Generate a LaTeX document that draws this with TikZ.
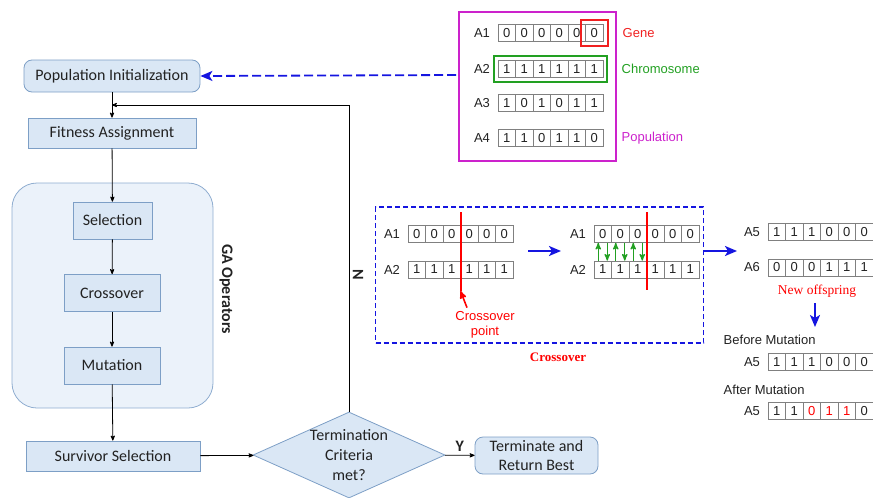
\documentclass[tikz,border=0pt]{standalone}
\usepackage{fontspec}
\setmainfont{Carlito}
\newfontfamily\arialfont{Liberation Sans}
\newfontfamily\timesfont{Liberation Serif}
\usetikzlibrary{arrows,arrows.meta,shapes.geometric,fit,positioning}
\definecolor{ink}{HTML}{222222}
\definecolor{boxfill}{HTML}{DAE7F5}
\definecolor{boxline}{HTML}{7D9FC6}
\definecolor{gafill}{HTML}{EBF2FA}
\definecolor{galine}{HTML}{8FADD0}
\definecolor{cellline}{HTML}{808080}
\definecolor{popcol}{HTML}{CC22CC}
\definecolor{genered}{HTML}{F02020}
\definecolor{chromgreen}{HTML}{22A022}
\definecolor{swapblue}{HTML}{1515E0}

\begin{document}
\begin{tikzpicture}[->,>=stealth',x=1pt,y=-1pt,line width=0.8pt,
  font=\fontsize{16}{19}\selectfont,text=ink]
  \tikzstyle{flow}=[draw=boxline,fill=boxfill,minimum height=30,inner sep=2,align=center]
  \tikzstyle{bitcell}=[draw=cellline,fill=white,line width=0.7pt,minimum width=17.5,
    minimum height=17,inner sep=0,font=\arialfont\fontsize{13}{15}\selectfont]
  \tikzstyle{rowlabel}=[font=\arialfont\fontsize{13}{15}\selectfont]
  \tikzstyle{note}=[anchor=west,font=\arialfont\fontsize{13}{15}\selectfont]
  \tikzstyle{bluearrow}=[swapblue,line width=2,-{Stealth[length=12pt,width=10pt,inset=3pt]}]

  \useasboundingbox (0,0) rectangle (873,498);

  % main flow
  \node[flow,rounded corners=8,minimum width=176,minimum height=32] (init) at (112,76) {Population Initialization};
  \node[flow,minimum width=168] (fit) at (112,133) {Fitness Assignment};
  \node[draw=galine,fill=gafill,rounded corners=25,minimum width=201,minimum height=225] (ga) at (112.5,295.5) {};
  \node[flow,minimum width=79,minimum height=37] (sel) at (112.5,220.5) {Selection};
  \node[flow,minimum width=96,minimum height=37] (cross) at (112,293) {Crossover};
  \node[flow,minimum width=96,minimum height=37] (mut) at (112,365.5) {Mutation};
  \node[rotate=-90,font=\fontsize{16}{19}\selectfont\bfseries] (galab) at (226,289) {GA Operators};
  \node[flow,minimum width=174] (surv) at (113,456) {Survivor Selection};
  \node[flow,diamond,minimum width=192,minimum height=86,inner sep=0,
    label={[align=center,font=\fontsize{16}{20}\selectfont]center:Termination\\Criteria\\met?}] (term) at (349,455) {};
  \node[flow,rounded corners=8,minimum width=123,minimum height=37] (done) at (536.5,455.5) {Terminate and\\Return Best};
  \coordinate (back) at (112,105);

  \path (init) edge (fit)
        (fit)  edge (sel)
        (sel)  edge (cross)
        (cross) edge (mut)
        (mut)  edge (surv)
        (surv) edge (term);
  \draw (term) -- node[above,font=\fontsize{16}{19}\selectfont\bfseries] {Y} (done);
  \draw (term.north) |- (back);
  \node[rotate=-90,font=\fontsize{16}{19}\selectfont\bfseries] (nlab) at (358,275) {N};

  % population
  \node[draw=popcol,line width=1.5,minimum width=157,minimum height=149] (pop) at (537.5,86.5) {};
  \foreach \nm/\lab/\xo/\yo/\bits in {p1/A1/498/33/{0,0,0,0,0,0},
      p2/A2/498/69/{1,1,1,1,1,1}, p3/A3/498/103/{1,0,1,0,1,1},
      p4/A4/498/138/{1,1,0,1,1,0}}{
    \node[rowlabel] (\nm) at (\xo-16,\yo) {\lab};
    \foreach \b [count=\i] in \bits
      \node[bitcell] (\nm-\i) at (\xo+\i*17.5-8.75,\yo) {\b};
  }
  \node[draw=genered,line width=2,fit=(p1-6),inner sep=4.5] (gbox) {};
  \node[draw=chromgreen,line width=2,fit=(p2-1)(p2-6),inner sep=4] (cbox) {};
  \node[note,text=genered] (gene) at (619,33) {Gene};
  \node[note,text=chromgreen] (chrom) at (618,69) {Chromosome};
  \node[note,text=popcol] (poplab) at (618,138) {Population};
  \coordinate (popin) at (456,75);
  \draw[bluearrow,line width=1.8,dash pattern=on 9pt off 4pt] (popin) -- (init.east);

  % crossover
  \node[draw=swapblue,line width=1.3,dash pattern=on 5pt off 3pt,minimum width=328,minimum height=136] (xbox) at (539.5,275) {};
  \foreach \nm/\lab/\xo/\yo/\bits in {c1/A1/408/234/{0,0,0,0,0,0},
      c2/A2/408/269.5/{1,1,1,1,1,1}, d1/A1/594/234/{0,0,0,0,0,0},
      d2/A2/594/269.5/{1,1,1,1,1,1}}{
    \node[rowlabel] (\nm) at (\xo-16,\yo) {\lab};
    \foreach \b [count=\i] in \bits
      \node[bitcell] (\nm-\i) at (\xo+\i*17.5-8.75,\yo) {\b};
  }
  \coordinate (cuta) at (460.5,212);
  \coordinate (cutb) at (460.5,291);
  \coordinate (cutc) at (646.5,212);
  \coordinate (cutd) at (646.5,290);
  \draw[-,red,line width=2] (cuta) -- (cutb);
  \draw[-,red,line width=2] (cutc) -- (cutd);
  \node[rowlabel,text=red,align=center,font=\arialfont\fontsize{13}{15.5}\selectfont] (cpt) at (485,325) {Crossover\\point};
  \draw[red,line width=1.6] ([xshift=-18pt]cpt.north) -- (cutb);
  \foreach \i in {1,2,3}{
    \draw[chromgreen,line width=1.3] ([xshift=-4.5pt]d2-\i.north) -- ([xshift=-4.5pt]d1-\i.south);
    \draw[chromgreen,line width=1.3] ([xshift=4.5pt]d1-\i.south) -- ([xshift=4.5pt]d2-\i.north);
  }
  \coordinate (xa) at (528,251);
  \coordinate (xb) at (561,251);
  \draw[bluearrow] (xa) -- (xb);
  \node[text=red,font=\timesfont\fontsize{13}{15}\selectfont\bfseries] (xlab) at (558,357) {Crossover};

  % offspring and mutation
  \coordinate (oa) at (704,251);
  \coordinate (ob) at (737,251);
  \draw[bluearrow] (oa) -- (ob);
  \foreach \nm/\lab/\xo/\yo/\bits in {o1/A5/768/232/{1,1,1,0,0,0},
      o2/A6/768/267.5/{0,0,0,1,1,1}, m1/A5/768/362/{1,1,1,0,0,0},
      m2/A5/768/411/{1,1,\textcolor{red}{0},\textcolor{red}{1},\textcolor{red}{1},0}}{
    \node[rowlabel] (\nm) at (\xo-16,\yo) {\lab};
    \foreach \b [count=\i] in \bits
      \node[bitcell] (\nm-\i) at (\xo+\i*17.5-8.75,\yo) {\b};
  }
  \node[text=red,font=\timesfont\fontsize{13.5}{16}\selectfont] (newoff) at (817,291) {New offspring};
  \coordinate (ma) at (815,303);
  \coordinate (mb) at (815,327);
  \draw[bluearrow] (ma) -- (mb);
  \node[note] (before) at (720,340) {Before Mutation};
  \node[note] (after) at (720,390) {After Mutation};
\end{tikzpicture}
\end{document}
